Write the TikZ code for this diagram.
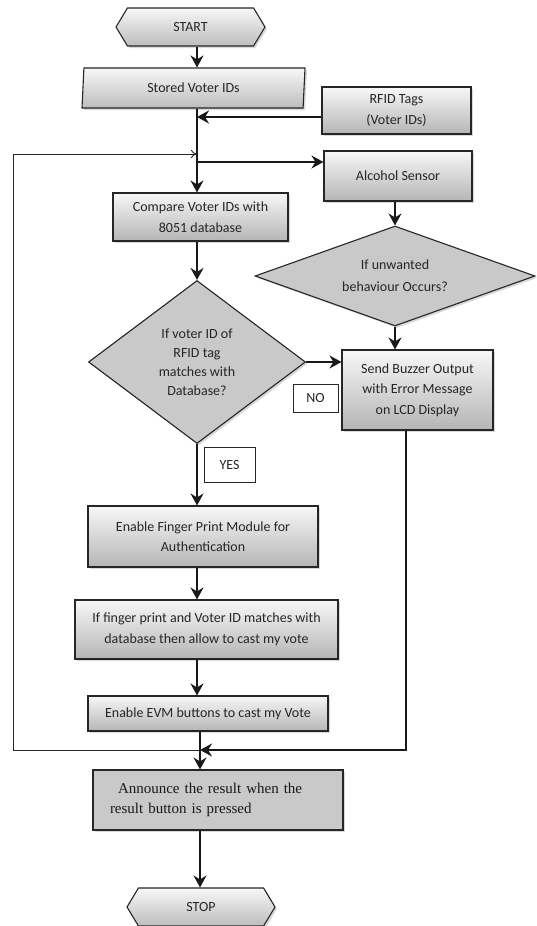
\documentclass[tikz,border=0pt]{standalone}
\usepackage{fontspec}
\setmainfont{Carlito}
\newfontfamily\tnr{Liberation Serif}
\usetikzlibrary{shapes.geometric,shapes.symbols,arrows.meta,shadows}
\newcommand\flowfs{\fontsize{14}{20.5}\selectfont}
\begin{document}
\begin{tikzpicture}[x=1pt,y=-1pt,
  base/.style={draw=black!85, line width=1.1pt, text=black!85, font=\flowfs, align=center, inner sep=0pt,
    drop shadow={shadow xshift=2pt,shadow yshift=-2pt,opacity=0.3}},
  procbox/.style={base, rectangle, top color=gray!6, bottom color=gray!58},
  hexa/.style={base, signal, signal to=west and east, signal pointer angle=118, top color=gray!6, bottom color=gray!52},
  para/.style={base, trapezium, trapezium left angle=79, trapezium right angle=101, trapezium stretches body, top color=gray!6, bottom color=gray!52},
  decide/.style={base, diamond, fill=gray!42},
  tagbox/.style={draw=black!85, line width=0.8pt, fill=white, font=\flowfs, text=black!85, inner sep=0pt},
  flow/.style={line width=2.6pt, black!90, -{Stealth[length=12pt,width=13pt,inset=4pt]}},
  loopline/.style={line width=0.9pt, black!85, -{To[length=6pt,width=8pt]}}
]
\useasboundingbox (0,0) rectangle (537,926);

% column coordinates
\coordinate (col) at (197,0);
\coordinate (colb) at (200,0);

% nodes
\node[hexa, minimum width=149pt, minimum height=38pt] (start) at (190.5,27) {START};
\node[para, minimum width=223pt, minimum height=40pt] (stored) at (193.5,88) {Stored Voter IDs};
\node[procbox, minimum width=149pt, minimum height=47pt] (rfid) at (396.5,110.5) {RFID Tags\\(Voter IDs)};
\node[procbox, minimum width=148pt, minimum height=50pt] (alc) at (398,176) {Alcohol Sensor};
\node[procbox, minimum width=175pt, minimum height=48pt] (comp) at (200.5,217) {Compare Voter IDs with\\8051 database};
\node[decide, aspect=1.33, minimum width=217pt, minimum height=163pt, font=\fontsize{14}{19}\selectfont] (d1) at (197,362) {If voter ID of\\RFID tag\\matches with\\Database?};
\node[decide, aspect=2.8, minimum width=280pt, minimum height=100pt, font=\fontsize{14}{22}\selectfont] (d2) at (395,276) {If unwanted\\behaviour Occurs?};
\node[procbox, minimum width=151pt, minimum height=80pt] (buz) at (417.5,390) {Send Buzzer Output\\with Error Message\\on LCD Display};
\node[tagbox, minimum width=45pt, minimum height=28pt] (no) at (315.5,398) {NO};
\node[tagbox, minimum width=51pt, minimum height=35pt] (yes) at (229.5,464.5) {YES};
\node[procbox, minimum width=230pt, minimum height=61pt] (fin) at (203,536.5) {Enable Finger Print Module for\\Authentication};
\node[procbox, minimum width=263pt, minimum height=59pt] (ifp) at (206.5,629.5) {If finger print and Voter ID matches with\\database then allow to cast my vote};
\node[procbox, minimum width=240pt, minimum height=35pt] (evm) at (208,713.5) {Enable EVM buttons to cast my Vote};
\node[base, rectangle, fill=gray!42, minimum width=250pt, minimum height=60pt, text width=216pt, align=left,
  font=\tnr\fontsize{15}{20}\selectfont, text=black!90] (ann) at (218,800)
  {\hspace*{8pt}Announce the result when the\\result button is pressed};
\node[hexa, minimum width=148pt, minimum height=38pt] (stop) at (201,907) {STOP};

% junction coordinates
\coordinate (jr) at (197,117);
\coordinate (jt) at (197,154);
\coordinate (ja) at (197,162);
\coordinate (lc) at (13,154);
\coordinate (jb) at (200,750);
\coordinate (bz) at (406,750);

% connectors
\draw[flow] (start.south -| col) -- (stored.north -| col);
\draw[flow] (stored.south -| col) -- (comp.north -| col);
\draw[flow] ([yshift=-6.5pt]rfid.west) -- (jr);
\draw[flow] (ja) -- ([yshift=14pt]alc.west);
\draw[flow] (comp.south -| col) -- (d1.north);
\draw[flow] (d2.north |- alc.south) -- (d2.north);
\draw[flow] (d2.south) -- (d2.south |- buz.north);
\draw[flow] (d1.east) -- (d1.east -| buz.west);
\draw[flow] (d1.south) -- (d1.south |- fin.north);
\draw[flow] (fin.south -| col) -- (ifp.north -| col);
\draw[flow] (ifp.south -| col) -- (evm.north -| col);
\draw[flow] (evm.south -| colb) -- (ann.north -| colb);
\draw[flow] (buz.south -| bz) -- (bz) -- (jb);
\draw[flow] (ann.south -| colb) -- (stop.north -| colb);
\draw[loopline] (jb) -| (lc) -- (jt);
\end{tikzpicture}
\end{document}
